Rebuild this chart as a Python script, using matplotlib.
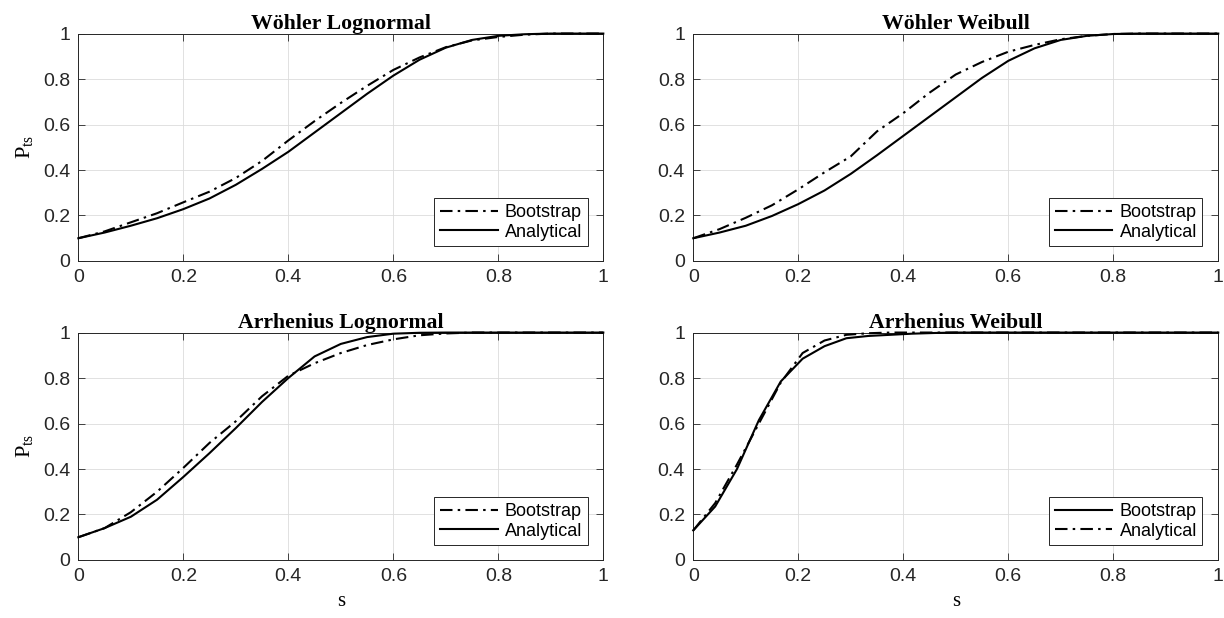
import matplotlib
matplotlib.use('Agg')
import matplotlib.pyplot as plt

plt.rcParams['font.family'] = ['Liberation Sans', 'DejaVu Sans']
plt.rcParams['mathtext.fontset'] = 'custom'
plt.rcParams['mathtext.rm'] = 'Liberation Serif'

# s grid (0.05 steps) for the first three panels
s20 = [0.00, 0.05, 0.10, 0.15, 0.20, 0.25, 0.30, 0.35, 0.40, 0.45, 0.50,
       0.55, 0.60, 0.65, 0.70, 0.75, 0.80, 0.85, 0.90, 0.95, 1.00]

# Wohler Lognormal
wl_boot = [0.100, 0.130, 0.170, 0.210, 0.258, 0.305, 0.365, 0.440, 0.530, 0.615, 0.695,
           0.770, 0.840, 0.895, 0.940, 0.970, 0.985, 0.995, 1.000, 1.000, 1.000]
wl_anal = [0.100, 0.125, 0.155, 0.188, 0.228, 0.275, 0.335, 0.405, 0.480, 0.565, 0.650,
           0.735, 0.815, 0.885, 0.938, 0.972, 0.990, 0.997, 1.000, 1.000, 1.000]

# Wohler Weibull
ww_boot = [0.100, 0.140, 0.190, 0.245, 0.315, 0.390, 0.460, 0.570, 0.650, 0.740, 0.820,
           0.875, 0.920, 0.950, 0.975, 0.990, 0.998, 1.000, 1.000, 1.000, 1.000]
ww_anal = [0.100, 0.125, 0.155, 0.198, 0.250, 0.310, 0.383, 0.465, 0.550, 0.635, 0.720,
           0.805, 0.880, 0.935, 0.972, 0.990, 0.998, 1.000, 1.000, 1.000, 1.000]

# Arrhenius Lognormal
al_boot = [0.100, 0.140, 0.210, 0.300, 0.405, 0.515, 0.610, 0.720, 0.810, 0.865, 0.910,
           0.945, 0.970, 0.988, 0.996, 1.000, 1.000, 1.000, 1.000, 1.000, 1.000]
al_anal = [0.100, 0.140, 0.190, 0.265, 0.365, 0.470, 0.580, 0.695, 0.800, 0.895, 0.950,
           0.980, 0.995, 0.999, 1.000, 1.000, 1.000, 1.000, 1.000, 1.000, 1.000]

# Arrhenius Weibull (coarser grid, 1/24 steps)
s24 = [0.0, 0.0417, 0.0833, 0.125, 0.1667, 0.2083, 0.25, 0.2917, 0.3333, 0.375,
       0.4167, 0.4583, 0.5, 0.5417, 0.5833, 0.625, 0.6667, 0.7083, 0.75, 0.7917,
       0.8333, 0.875, 0.9167, 0.9583, 1.0]
aw_boot = [0.130, 0.235, 0.400, 0.615, 0.785, 0.885, 0.940, 0.975, 0.985, 0.990,
           0.995, 0.998, 1.000, 1.000, 1.000, 1.000, 1.000, 1.000, 1.000, 1.000,
           1.000, 1.000, 1.000, 1.000, 1.000]
aw_anal = [0.130, 0.250, 0.420, 0.600, 0.780, 0.910, 0.965, 0.990, 0.997, 1.000,
           1.000, 1.000, 1.000, 1.000, 1.000, 1.000, 1.000, 1.000, 1.000, 1.000,
           1.000, 1.000, 1.000, 1.000, 1.000]

tick_vals = [0, 0.2, 0.4, 0.6, 0.8, 1]
tick_labels = ['0', '0.2', '0.4', '0.6', '0.8', '1']

dashdot = (0, (6, 2.5, 1.2, 2.5))

fig = plt.figure(figsize=(12.24, 6.18), dpi=100)
lefts = [0.064, 0.5664]
bottoms = [0.5777, 0.0939]
w, h = 0.4289, 0.368

panels = [
    ('Wöhler Lognormal', s20, wl_boot, wl_anal, False),
    ('Wöhler Weibull', s20, ww_boot, ww_anal, False),
    ('Arrhenius Lognormal', s20, al_boot, al_anal, False),
    ('Arrhenius Weibull', s24, aw_boot, aw_anal, True),
]

for i, (title, s, boot, anal, swap) in enumerate(panels):
    ax = fig.add_axes([lefts[i % 2], bottoms[i // 2], w, h])
    boot_ls = '-' if swap else dashdot
    anal_ls = dashdot if swap else '-'
    ax.plot(s, boot, color='black', linestyle=boot_ls, linewidth=1.5, label='Bootstrap',
            clip_on=False, zorder=3)
    ax.plot(s, anal, color='black', linestyle=anal_ls, linewidth=1.5, label='Analytical',
            clip_on=False, zorder=3)

    ax.set_xlim(0, 1)
    ax.set_ylim(0, 1)
    ax.set_xticks(tick_vals)
    ax.set_xticklabels(tick_labels)
    ax.set_yticks(tick_vals)
    ax.set_yticklabels(tick_labels)
    ax.tick_params(direction='in', top=True, right=True, length=5, width=0.6,
                   labelsize=14, colors='#262626', pad=6)
    ax.grid(True, color='#dcdcdc', linewidth=0.6)
    ax.set_axisbelow(True)
    for sp in ax.spines.values():
        sp.set_color('#262626')
        sp.set_linewidth(0.7)

    ax.set_title(title, family='Liberation Serif', fontweight='bold', fontsize=15.7, pad=3)
    if i % 2 == 0:
        ax.set_ylabel(r'P$_{\mathrm{ts}}$', family='Liberation Serif', fontsize=16, labelpad=5)
    if i // 2 == 1:
        ax.set_xlabel('s', family='Liberation Serif', fontsize=15, labelpad=5)

    leg = ax.legend(loc='lower right', bbox_to_anchor=(0.97, 0.066), borderaxespad=0,
                    fontsize=13, fancybox=False, framealpha=1, edgecolor='#262626',
                    handlelength=3.2, handletextpad=0.4, labelspacing=0.15,
                    borderpad=0.3)
    leg.get_frame().set_linewidth(0.7)

fig.savefig('out.png', dpi=100)
